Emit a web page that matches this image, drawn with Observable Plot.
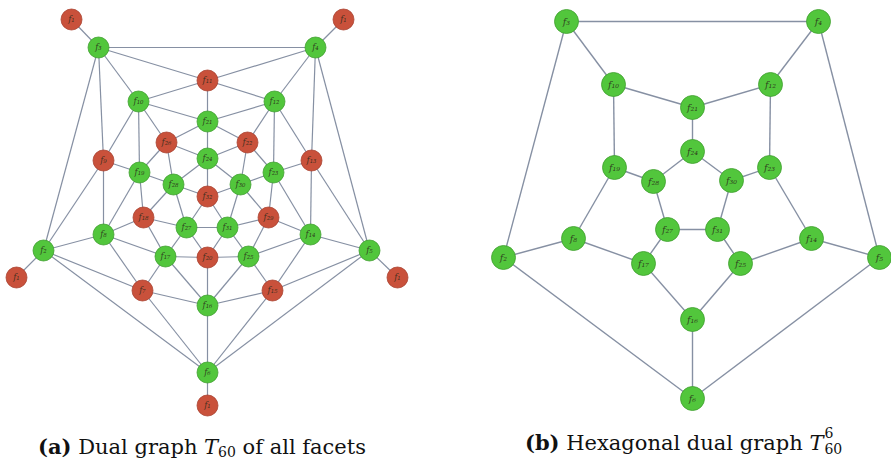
<!DOCTYPE html>
<html>
<head>
<meta charset="utf-8">
<script src="https://cdn.jsdelivr.net/npm/d3@7"></script>
<script src="https://cdn.jsdelivr.net/npm/@observablehq/plot@0.6"></script>
<style>
  html, body { margin: 0; padding: 0; background: #fff; }
  #wrap { position: relative; width: 891px; height: 460px; overflow: hidden; }
  .cap { position: absolute; font-family: "DejaVu Serif", "Liberation Serif", serif; font-size: 21px; line-height: 21px; color: #111; white-space: nowrap; }
  .cap b { font-weight: bold; }
  .cap i { font-style: italic; }
  .lo { position: relative; top: 3px; font-size: 14px; }
  .supsub { display: inline-block; position: relative; width: 20px; height: 10px; }
  .supsub .s1 { position: absolute; left: 1px; top: -14px; font-size: 14px; line-height: 14px; }
  .supsub .s2 { position: absolute; left: 1px; top: 2px; font-size: 14px; line-height: 14px; }
</style>
</head>
<body>
<div id="wrap">
  <div id="chart"></div>
  <div class="cap" id="capA" style="left:38px; top:436px;"><b>(a)</b> Dual graph <i>T</i><span class="lo">60</span> of all facets</div>
  <div class="cap" id="capB" style="left:525px; top:432px;"><b>(b)</b> Hexagonal dual graph <i>T</i><span class="supsub"><span class="s1">6</span><span class="s2">60</span></span></div>
</div>
<script>
// ---- Data: facet kinds ----
const redFacets = [1, 7, 9, 11, 13, 15, 18, 20, 22, 26, 29, 32];   // pentagonal facets
const greenFacets = [2, 3, 4, 5, 6, 8, 10, 12, 14, 16, 17, 19, 21, 23, 24, 25, 27, 28, 30, 31]; // hexagonal facets

// ---- Data: layout of graph (a) (node id, facet number, layout x, layout y) ----
const leftIds    = ["f1a","f1b","f1c","f1d","f1e","f3","f4","f2","f5","f6","f11","f9","f13","f7","f15","f10","f12","f8","f14","f16","f21","f19","f23","f17","f25","f26","f22","f18","f29","f20","f24","f28","f30","f27","f31","f32"];
const leftFacet  = [1,1,1,1,1,3,4,2,5,6,11,9,13,7,15,10,12,8,14,16,21,19,23,17,25,26,22,18,29,20,24,28,30,27,31,32];
const leftX      = [71,343,16,397,207,98,315,43,369,207,207,103,311,142,272,138,274,103,310,207,207,139,273,165,248,166,247,143,268,207,207,173,240,186,227,207];
const leftY      = [19,19,277,277,405,47,47,250,250,372,80,160,160,290,290,101,101,234,234,305,121,172,172,256,256,142,142,217,217,257,158,184,184,227,227,196];

// ---- Data: edges of graph (a) ----
const leftEdges = [
  ["f1a","f3"],["f1b","f4"],["f1c","f2"],["f1d","f5"],["f1e","f6"],
  ["f3","f4"],["f3","f2"],["f2","f6"],["f6","f5"],["f5","f4"],
  ["f3","f11"],["f3","f10"],["f3","f9"],
  ["f4","f11"],["f4","f12"],["f4","f13"],
  ["f2","f9"],["f2","f8"],["f2","f7"],
  ["f5","f13"],["f5","f14"],["f5","f15"],
  ["f6","f7"],["f6","f16"],["f6","f15"],
  ["f11","f10"],["f11","f12"],["f11","f21"],
  ["f9","f10"],["f9","f19"],["f9","f8"],
  ["f13","f12"],["f13","f23"],["f13","f14"],
  ["f7","f8"],["f7","f17"],["f7","f16"],
  ["f15","f14"],["f15","f25"],["f15","f16"],
  ["f10","f21"],["f10","f26"],["f10","f19"],
  ["f12","f21"],["f12","f22"],["f12","f23"],
  ["f8","f19"],["f8","f18"],["f8","f17"],
  ["f14","f23"],["f14","f29"],["f14","f25"],
  ["f16","f17"],["f16","f20"],["f16","f25"],
  ["f21","f26"],["f21","f22"],["f21","f24"],
  ["f19","f26"],["f19","f18"],["f19","f28"],
  ["f23","f22"],["f23","f29"],["f23","f30"],
  ["f17","f18"],["f17","f20"],["f17","f27"],
  ["f25","f29"],["f25","f20"],["f25","f31"],
  ["f26","f24"],["f26","f28"],
  ["f22","f24"],["f22","f30"],
  ["f18","f28"],["f18","f27"],
  ["f29","f30"],["f29","f31"],
  ["f20","f27"],["f20","f31"],
  ["f24","f28"],["f24","f30"],["f24","f32"],
  ["f28","f27"],["f28","f32"],
  ["f30","f31"],["f30","f32"],
  ["f27","f31"],["f27","f32"],
  ["f31","f32"]
];

// ---- Data: layout of graph (b) ----
const rightIds   = ["f3","f4","f2","f5","f6","f10","f12","f8","f14","f16","f21","f19","f23","f17","f25","f24","f28","f30","f27","f31"];
const rightFacet = [3,4,2,5,6,10,12,8,14,16,21,19,23,17,25,24,28,30,27,31];
const rightX     = [566,818,503,879,692,613,770,573,811,692,692,614,769,643,740,692,653,731,667,717];
const rightY     = [21,21,257,257,398,84,84,238,238,319,107,167,167,263,263,151,181,180,229,229];

// ---- Data: edges of graph (b) ----
const rightEdges = [
  ["f3","f4"],["f3","f10"],["f3","f2"],
  ["f4","f12"],["f4","f5"],
  ["f2","f8"],["f2","f6"],
  ["f5","f14"],["f5","f6"],
  ["f6","f16"],
  ["f10","f21"],["f10","f19"],
  ["f12","f21"],["f12","f23"],
  ["f8","f19"],["f8","f17"],
  ["f14","f23"],["f14","f25"],
  ["f16","f17"],["f16","f25"],
  ["f21","f24"],
  ["f19","f28"],
  ["f23","f30"],
  ["f17","f27"],
  ["f25","f31"],
  ["f24","f28"],["f24","f30"],
  ["f28","f27"],
  ["f30","f31"],
  ["f27","f31"]
];

// ---- Build tables ----
const subDigits = "₀₁₂₃₄₅₆₇₈₉";
const sub = n => String(n).split("").map(d => subDigits[+d]).join("");
const kind = n => redFacets.includes(n) ? "pent" : "hex";

const leftNodes = leftIds.map((id, i) => ({id, facet: leftFacet[i], x: leftX[i], y: leftY[i], kind: kind(leftFacet[i]), label: "f" + sub(leftFacet[i])}));
const rightNodes = rightIds.map((id, i) => ({id, facet: rightFacet[i], x: rightX[i], y: rightY[i], kind: kind(rightFacet[i]), label: "f" + sub(rightFacet[i])}));
const lMap = new Map(leftNodes.map(d => [d.id, d]));
const rMap = new Map(rightNodes.map(d => [d.id, d]));
const lLinks = leftEdges.map(([a, b]) => ({a: lMap.get(a), b: lMap.get(b)}));
const rLinks = rightEdges.map(([a, b]) => ({a: rMap.get(a), b: rMap.get(b)}));

const edgeColor = "#8690a3";
const fillScale = {domain: ["hex", "pent"], range: ["#52c63c", "#c9513b"]};
const strokeCol = d => d.kind === "hex" ? "#3f9e2e" : "#a8402f";

const chart = Plot.plot({
  width: 891,
  height: 460,
  margin: 0,
  x: {domain: [0, 891], range: [0, 891], axis: null},
  y: {domain: [0, 460], range: [0, 460], axis: null},
  color: fillScale,
  style: {background: "#fff"},
  marks: [
    Plot.link(lLinks, {x1: d => d.a.x, y1: d => d.a.y, x2: d => d.b.x, y2: d => d.b.y, stroke: edgeColor, strokeWidth: 1.2}),
    Plot.link(rLinks, {x1: d => d.a.x, y1: d => d.a.y, x2: d => d.b.x, y2: d => d.b.y, stroke: edgeColor, strokeWidth: 1.4}),
    Plot.dot(leftNodes, {x: "x", y: "y", r: 10.5, fill: "kind", stroke: strokeCol, strokeWidth: 0.8}),
    Plot.dot(rightNodes, {x: "x", y: "y", r: 12, fill: "kind", stroke: strokeCol, strokeWidth: 0.8}),
    Plot.text(leftNodes, {x: "x", y: "y", text: "label", fontSize: 8.5, fontStyle: "italic", fontFamily: "DejaVu Serif", fill: "#2a2a1a", fillOpacity: 0.85}),
    Plot.text(rightNodes, {x: "x", y: "y", text: "label", fontSize: 9.5, fontStyle: "italic", fontFamily: "DejaVu Serif", fill: "#2a2a1a", fillOpacity: 0.85})
  ]
});
document.getElementById("chart").appendChild(chart);
</script>
</body>
</html>
